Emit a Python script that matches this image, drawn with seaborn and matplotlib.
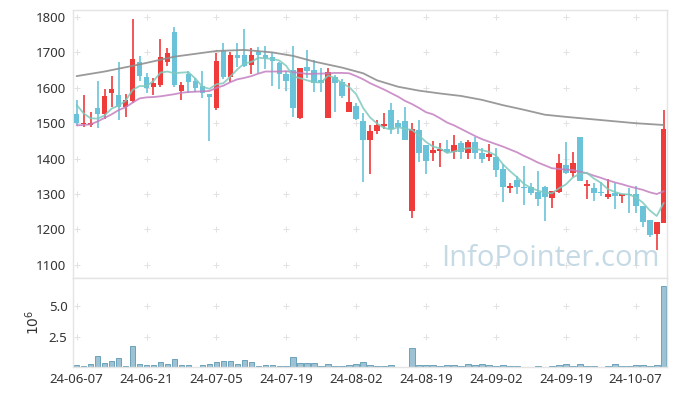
import numpy as np
import pandas as pd
import seaborn as sns
import matplotlib.pyplot as plt

# dates on the x axis (trading-day index -> label)
tick_pos = [0, 10, 20, 30, 40, 50, 60, 70, 80]
tick_labels = ['24-06-07', '24-06-21', '24-07-05', '24-07-19', '24-08-02',
               '24-08-19', '24-09-02', '24-09-19', '24-10-07']

open_ = [1525, 1498, 1496, 1543, 1527, 1586, 1580, 1547, 1564, 1674,
         1630, 1603, 1608, 1674, 1758, 1592, 1639, 1620, 1605, 1582,
         1544, 1705, 1631, 1693, 1693, 1664, 1702, 1693, 1686, 1669,
         1639, 1650, 1516, 1660, 1650, 1622, 1516, 1631, 1617, 1531,
         1549, 1506, 1452, 1479, 1493, 1537, 1501, 1506, 1253, 1481,
         1438, 1417, 1422, 1427, 1420, 1445, 1415, 1447, 1417, 1405,
         1405, 1370, 1316, 1339, 1321, 1319, 1305, 1319, 1290, 1307,
         1382, 1360, 1462, 1324, 1318, 1306, 1292, 1304, 1295, 1300,
         1300, 1266, 1226, 1187, 1219]
high = [1567, 1579, 1533, 1619, 1598, 1633, 1672, 1582, 1793, 1690,
        1641, 1627, 1737, 1712, 1773, 1617, 1647, 1627, 1647, 1582,
        1697, 1727, 1700, 1726, 1765, 1713, 1716, 1718, 1700, 1674,
        1648, 1718, 1657, 1707, 1678, 1655, 1655, 1636, 1624, 1613,
        1556, 1528, 1495, 1509, 1528, 1556, 1509, 1547, 1502, 1509,
        1438, 1450, 1443, 1452, 1467, 1450, 1454, 1460, 1429, 1440,
        1429, 1385, 1332, 1351, 1379, 1330, 1365, 1323, 1309, 1412,
        1448, 1418, 1462, 1339, 1330, 1335, 1343, 1330, 1300, 1316,
        1323, 1266, 1226, 1220, 1537]
low = [1495, 1490, 1488, 1487, 1512, 1545, 1509, 1518, 1556, 1620,
       1584, 1580, 1601, 1662, 1601, 1566, 1586, 1587, 1570, 1450,
       1537, 1624, 1617, 1660, 1660, 1639, 1641, 1652, 1605, 1596,
       1591, 1518, 1512, 1627, 1589, 1587, 1516, 1533, 1570, 1531,
       1509, 1333, 1358, 1469, 1483, 1469, 1469, 1452, 1231, 1391,
       1356, 1394, 1375, 1415, 1398, 1398, 1398, 1398, 1388, 1393,
       1349, 1277, 1302, 1299, 1269, 1297, 1266, 1225, 1262, 1304,
       1358, 1347, 1338, 1285, 1281, 1294, 1286, 1259, 1274, 1247,
       1247, 1208, 1179, 1142, 1219]
close = [1501, 1502, 1501, 1527, 1577, 1598, 1547, 1567, 1681, 1633,
         1599, 1614, 1687, 1699, 1608, 1608, 1617, 1600, 1584, 1575,
         1676, 1631, 1693, 1685, 1662, 1693, 1693, 1683, 1677, 1638,
         1619, 1544, 1655, 1648, 1613, 1613, 1645, 1615, 1578, 1561,
         1511, 1452, 1478, 1495, 1498, 1485, 1488, 1452, 1483, 1417,
         1394, 1424, 1427, 1418, 1438, 1420, 1447, 1417, 1400, 1412,
         1368, 1321, 1322, 1319, 1317, 1304, 1286, 1292, 1309, 1388,
         1360, 1388, 1338, 1328, 1304, 1302, 1300, 1294, 1300, 1297,
         1266, 1222, 1184, 1220, 1485]
volume = [0.16, 0.05, 0.22, 0.90, 0.30, 0.49, 0.71, 0.05, 1.72, 0.25,
          0.16, 0.16, 0.41, 0.25, 0.63, 0.16, 0.16, 0.02, 0.16, 0.25,
          0.41, 0.49, 0.49, 0.25, 0.57, 0.41, 0.05, 0.16, 0.16, 0.05,
          0.05, 0.79, 0.33, 0.33, 0.33, 0.05, 0.25, 0.05, 0.05, 0.14,
          0.22, 0.41, 0.16, 0.05, 0.05, 0.16, 0.02, 0.02, 1.56, 0.16,
          0.16, 0.16, 0.05, 0.16, 0.16, 0.05, 0.22, 0.16, 0.22, 0.16,
          0.05, 0.16, 0.05, 0.05, 0.02, 0.02, 0.05, 0.02, 0.05, 0.16,
          0.22, 0.05, 0.22, 0.05, 0.05, 0.02, 0.05, 0.22, 0.05, 0.05,
          0.16, 0.16, 0.05, 0.16, 6.63]

ma5 = [1552, 1528, 1514, 1513, 1522, 1541, 1550, 1563, 1594, 1605,
       1605, 1619, 1643, 1646, 1641, 1643, 1644, 1626, 1603, 1597,
       1610, 1613, 1632, 1652, 1669, 1673, 1685, 1683, 1682, 1677,
       1662, 1632, 1627, 1621, 1616, 1615, 1635, 1627, 1613, 1602,
       1582, 1543, 1516, 1499, 1487, 1482, 1489, 1484, 1481, 1465,
       1447, 1434, 1429, 1416, 1420, 1425, 1430, 1428, 1424, 1419,
       1409, 1384, 1365, 1348, 1329, 1317, 1310, 1304, 1302, 1316,
       1327, 1347, 1357, 1360, 1344, 1332, 1314, 1306, 1300, 1299,
       1291, 1276, 1254, 1238, 1275]
ma20 = [1494, 1495, 1497, 1505, 1515, 1525, 1537, 1545, 1558, 1570,
        1573, 1574, 1576, 1579, 1582, 1586, 1588, 1589, 1590, 1591,
        1600, 1606, 1616, 1624, 1628, 1633, 1640, 1646, 1646, 1646,
        1647, 1644, 1642, 1639, 1640, 1640, 1641, 1642, 1642, 1641,
        1633, 1624, 1613, 1604, 1595, 1585, 1575, 1563, 1554, 1543,
        1531, 1525, 1514, 1502, 1494, 1484, 1474, 1464, 1455, 1448,
        1441, 1434, 1426, 1418, 1408, 1399, 1389, 1381, 1373, 1371,
        1369, 1368, 1363, 1359, 1352, 1346, 1339, 1333, 1328, 1322,
        1317, 1312, 1305, 1300, 1308]
ma60_day = [0, 4, 9, 14, 20, 24, 28, 31, 34, 38, 41, 43, 46, 49, 52, 55,
            58, 61, 64, 67, 70, 75, 80, 84]
ma60 = [1633, 1646, 1666, 1688, 1704, 1707, 1700, 1690, 1674, 1657, 1641,
        1621, 1603, 1592, 1584, 1577, 1566, 1551, 1538, 1524, 1518, 1509,
        1500, 1495]

RED = '#f03b3b'
BLUE = '#6ac3d9'

df = pd.DataFrame({'day': np.arange(len(close)), 'open': open_, 'high': high,
                   'low': low, 'close': close, 'volume': volume,
                   'ma5': ma5, 'ma20': ma20})
up = df['close'] >= df['open']
df['color'] = np.where(up, RED, BLUE)
df['bottom'] = df[['open', 'close']].min(axis=1)
df['body'] = (df['close'] - df['open']).abs().clip(lower=2.5)

sns.set_style('white')
plt.rcParams['font.family'] = ['Noto Sans', 'DejaVu Sans']

fig = plt.figure(figsize=(6.77, 3.96), dpi=100)
ax = fig.add_axes([0.108, 0.298, 0.877, 0.677])
axv = fig.add_axes([0.108, 0.073, 0.877, 0.225], sharex=ax)

# grid crosses
gx, gy = np.meshgrid(tick_pos, np.arange(1100, 1801, 100))
ax.scatter(gx.ravel(), gy.ravel(), marker='+', s=15, color='#e2e2e2', lw=0.7, zorder=0)
gx2, gy2 = np.meshgrid(tick_pos, [2.5, 5.0])
axv.scatter(gx2.ravel(), gy2.ravel(), marker='+', s=15, color='#e2e2e2', lw=0.7, zorder=0)

# candles
ax.vlines(df['day'], df['low'], df['high'], colors=df['color'], lw=1.2, zorder=2)
ax.bar(df['day'], df['body'], bottom=df['bottom'], width=0.8,
       color=df['color'], lw=0, zorder=3)

# moving averages
sns.lineplot(x=ma60_day, y=ma60, ax=ax, color='#8f8f8f', lw=1.3, alpha=0.9, zorder=4)
sns.lineplot(data=df, x='day', y='ma20', ax=ax, color='#c47fc0', lw=1.3, alpha=0.85, zorder=4)
sns.lineplot(data=df, x='day', y='ma5', ax=ax, color='#7ec9bd', lw=1.3, alpha=0.85, zorder=4)

ax.text(0.988, 0.045, 'InfoPointer.com', transform=ax.transAxes, ha='right',
        va='baseline', fontsize=21, color='#c6dae5', family='Open Sans', zorder=1)

ax.set_xlim(-0.5, 84.45)
ax.set_ylim(1063, 1820)
ax.set_yticks(range(1100, 1801, 100))
ax.set_xlabel('')
ax.set_ylabel('')
ax.tick_params(axis='x', labelbottom=False, length=0)
ax.tick_params(axis='y', length=0, labelsize=9.5, labelcolor='#333333', pad=5)

# volume
axv.bar(df['day'], df['volume'], width=0.8, color='#9cc2d3', edgecolor='#5d98b3', lw=0.6)
axv.set_ylim(0, 7.3)
axv.set_yticks([2.5, 5.0])
axv.set_yticklabels(['2.5', '5.0'])
axv.set_ylabel('$10^6$', fontsize=10, color='#333333', labelpad=4)
axv.set_xticks(tick_pos)
axv.set_xticklabels(tick_labels)
axv.tick_params(length=0, labelsize=9.5, labelcolor='#333333', pad=4)

for a in (ax, axv):
    for s in a.spines.values():
        s.set_color('#e4e4e4')
        s.set_linewidth(1.0)

fig.savefig('out.png', dpi=100)
